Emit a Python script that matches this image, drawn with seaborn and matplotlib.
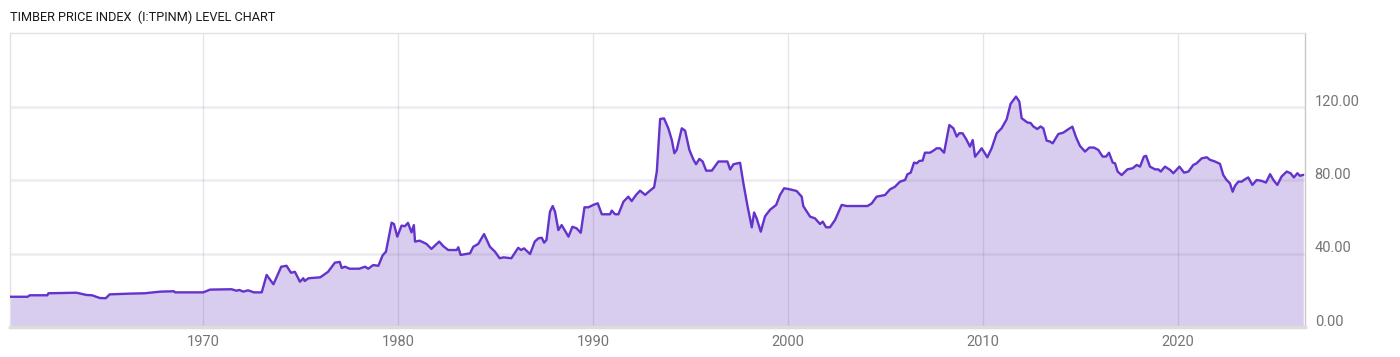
import matplotlib
matplotlib.use("Agg")
import matplotlib.pyplot as plt
from matplotlib.transforms import ScaledTranslation
import seaborn as sns
import pandas as pd

# ---- data ----
years = [1960.09, 1961.0, 1961.1, 1962.0, 1962.06, 1963.5, 1964.0, 1964.3, 1964.7, 1965.0,
         1965.2, 1966.2, 1967.0, 1967.8, 1968.5, 1968.55, 1970.0, 1970.35, 1971.45, 1971.7,
         1971.85, 1972.05, 1972.3, 1972.6, 1973.0, 1973.25, 1973.6, 1974.0, 1974.27, 1974.5,
         1974.7, 1974.96, 1975.13, 1975.2, 1975.4, 1976.0, 1976.4, 1976.75, 1977.0, 1977.1,
         1977.27, 1977.5, 1978.0, 1978.3, 1978.46, 1978.72, 1978.98, 1979.2, 1979.37, 1979.66,
         1979.78, 1979.95, 1980.17, 1980.34, 1980.5, 1980.68, 1980.8, 1980.86, 1981.1, 1981.45,
         1981.7, 1982.1, 1982.3, 1982.56, 1983.0, 1983.08, 1983.2, 1983.68, 1983.85, 1984.1,
         1984.4, 1984.7, 1984.96, 1985.2, 1985.4, 1985.8, 1986.15, 1986.3, 1986.45, 1986.76,
         1987.0, 1987.19, 1987.36, 1987.48, 1987.6, 1987.78, 1987.92, 1988.04, 1988.21, 1988.38,
         1988.73, 1988.93, 1989.15, 1989.36, 1989.55, 1989.75, 1990.0, 1990.23, 1990.44, 1990.86,
         1990.95, 1991.12, 1991.29, 1991.55, 1991.8, 1991.97, 1992.2, 1992.4, 1992.66, 1992.91,
         1993.12, 1993.26, 1993.43, 1993.63, 1993.85, 1994.03, 1994.16, 1994.28, 1994.54, 1994.71,
         1994.93, 1995.13, 1995.27, 1995.44, 1995.61, 1995.79, 1996.08, 1996.42, 1996.88, 1997.02,
         1997.19, 1997.53, 1997.7, 1997.9, 1998.13, 1998.25, 1998.38, 1998.59, 1998.81, 1999.07,
         1999.38, 1999.58, 1999.79, 2000.09, 2000.43, 2000.69, 2000.77, 2001.12, 2001.37, 2001.63,
         2001.77, 2001.94, 2002.14, 2002.4, 2002.74, 2003.0, 2004.06, 2004.28, 2004.53, 2004.96,
         2005.22, 2005.47, 2005.73, 2005.99, 2006.11, 2006.28, 2006.45, 2006.59, 2006.72, 2006.89,
         2007.01, 2007.27, 2007.44, 2007.61, 2007.78, 2007.99, 2008.26, 2008.47, 2008.64, 2008.77,
         2008.94, 2009.15, 2009.32, 2009.46, 2009.58, 2009.92, 2010.21, 2010.43, 2010.69, 2010.94,
         2011.2, 2011.4, 2011.68, 2011.85, 2011.97, 2012.26, 2012.43, 2012.57, 2012.77, 2012.94,
         2013.08, 2013.25, 2013.42, 2013.56, 2013.85, 2014.1, 2014.36, 2014.57, 2014.76, 2014.96,
         2015.22, 2015.44, 2015.68, 2015.9, 2016.12, 2016.3, 2016.45, 2016.64, 2016.76, 2016.89,
         2017.1, 2017.39, 2017.66, 2017.87, 2018.04, 2018.24, 2018.35, 2018.55, 2018.81, 2018.98,
         2019.1, 2019.32, 2019.58, 2019.75, 2020.06, 2020.3, 2020.52, 2020.77, 2020.94, 2021.2,
         2021.46, 2021.63, 2021.88, 2022.14, 2022.31, 2022.48, 2022.65, 2022.79, 2022.91, 2023.08,
         2023.25, 2023.42, 2023.59, 2023.8, 2024.02, 2024.28, 2024.5, 2024.71, 2024.88, 2025.08,
         2025.3, 2025.56, 2025.76, 2025.93, 2026.11, 2026.24, 2026.41]

index_level = [16.5, 16.5, 17.3, 17.3, 18.4, 18.7, 17.5, 17.3, 15.8, 15.7,
               17.8, 18.2, 18.4, 19.3, 19.5, 18.9, 18.9, 20.4, 20.6, 19.8,
               20.2, 19.3, 20.0, 18.9, 18.9, 28.4, 23.3, 32.9, 33.4, 29.6,
               30.1, 24.7, 26.6, 25.1, 26.6, 27.1, 30.1, 35.1, 35.5, 32.2,
               32.9, 31.8, 31.8, 32.9, 31.8, 33.8, 33.4, 39.1, 41.1, 56.9,
               56.2, 49.3, 55.3, 55.0, 56.8, 51.6, 55.6, 46.6, 47.1, 45.3,
               42.6, 46.6, 44.2, 42.0, 42.0, 43.5, 39.3, 40.2, 43.8, 45.3,
               50.7, 43.8, 41.1, 37.5, 38.0, 37.5, 43.2, 42.0, 42.9, 39.8,
               46.6, 48.4, 48.7, 46.0, 47.5, 62.9, 66.0, 62.9, 52.9, 55.6,
               49.3, 54.7, 53.8, 51.4, 65.3, 65.3, 66.6, 67.5, 61.5, 61.5,
               63.5, 61.5, 61.5, 68.4, 71.1, 68.7, 72.1, 74.4, 72.1, 74.4,
               76.2, 84.8, 113.5, 113.8, 108.4, 102.0, 94.8, 96.6, 108.4, 107.1,
               96.6, 91.5, 88.8, 91.7, 90.3, 85.3, 85.3, 90.3, 90.3, 85.9,
               88.8, 89.6, 78.4, 66.6, 54.4, 62.5, 59.3, 52.0, 60.4, 64.0,
               66.6, 72.1, 75.7, 75.1, 74.2, 71.1, 66.0, 60.2, 59.3, 56.2,
               57.5, 54.4, 54.4, 58.4, 66.6, 66.0, 66.0, 67.4, 71.1, 72.0,
               75.1, 76.5, 79.3, 80.2, 83.3, 84.2, 89.7, 89.3, 90.6, 90.8,
               95.1, 95.1, 96.2, 97.5, 97.5, 95.1, 110.2, 108.4, 103.9, 105.7,
               105.7, 102.0, 98.4, 102.0, 92.9, 97.5, 92.6, 97.5, 105.7, 108.4,
               113.3, 121.7, 125.7, 123.0, 113.9, 111.6, 111.3, 109.4, 108.0, 109.4,
               108.4, 101.7, 101.2, 100.2, 105.3, 106.0, 107.9, 109.3, 103.5, 98.8,
               95.7, 97.9, 97.9, 96.6, 93.0, 93.0, 95.1, 89.7, 89.3, 84.8,
               82.9, 86.0, 86.6, 88.4, 87.5, 93.0, 93.4, 87.5, 86.0, 86.0,
               84.8, 87.5, 85.7, 83.9, 87.5, 84.2, 84.8, 88.4, 89.3, 92.0,
               92.6, 91.2, 90.3, 89.0, 82.9, 80.2, 78.4, 73.8, 77.0, 79.3,
               79.3, 80.6, 81.6, 77.5, 80.2, 79.7, 78.8, 83.4, 80.2, 77.5,
               82.1, 84.8, 83.9, 81.6, 83.9, 82.5, 83.0]

x_ticks = [1970, 1980, 1990, 2000, 2010, 2020]
y_ticks = [0, 40, 80, 120]
y_tick_labels = ["0.00", "40.00", "80.00", "120.00"]
title = "TIMBER PRICE INDEX  (I:TPINM) LEVEL CHART"

df = pd.DataFrame({"year": years, "level": index_level})

sns.set_theme(style="white")
plt.rcParams["font.family"] = ["Roboto", "DejaVu Sans"]

LINE = "#6433cc"
FILL = "#d8ccef"
TICK = "#757575"

fig = plt.figure(figsize=(14, 3.57), dpi=100)
ax = fig.add_axes([10 / 1400, 30 / 357, 1295 / 1400, 294 / 357])

ax.fill_between(df["year"], df["level"], 0, color=FILL, linewidth=0, zorder=1)
sns.lineplot(data=df, x="year", y="level", ax=ax, color=LINE, linewidth=1.7,
             zorder=3, estimator=None, sort=False)

ax.set_xlim(1960.09, 2026.5)
ax.set_ylim(0, 160.4)

# grid
for yv in y_ticks[1:]:
    ax.axhline(yv, color=(0.35, 0.3, 0.45, 0.10), linewidth=1.8, zorder=2)
for xv in x_ticks:
    ax.axvline(xv, color=(0.35, 0.3, 0.45, 0.15), linewidth=1.0, zorder=2)

ax.set_xticks(x_ticks)
ax.set_xticklabels([str(v) for v in x_ticks])
ax.set_yticks(y_ticks)
ax.set_yticklabels(y_tick_labels)
ax.yaxis.tick_right()
ax.tick_params(axis="both", length=0, colors=TICK, labelsize=10.5)
ax.tick_params(axis="x", pad=6)
ax.tick_params(axis="y", pad=7)
for lab in ax.get_yticklabels():
    lab.set_transform(lab.get_transform() + ScaledTranslation(0, 7 / 100, fig.dpi_scale_trans))
    lab.set_horizontalalignment("left")

ax.set_xlabel("")
ax.set_ylabel("")

for side in ["top", "left"]:
    ax.spines[side].set_color("#e2e2e2")
    ax.spines[side].set_linewidth(1.0)
ax.spines["right"].set_color("#c8c8c8")
ax.spines["right"].set_linewidth(1.0)
ax.spines["bottom"].set_color("#dcdcdc")
ax.spines["bottom"].set_linewidth(2.5)

fig.text(10 / 1400, 1 - 17 / 357, title, ha="left", va="center",
         fontsize=9.2, color="#1a1a1a")

fig.savefig("out.png", dpi=100, facecolor="white")
